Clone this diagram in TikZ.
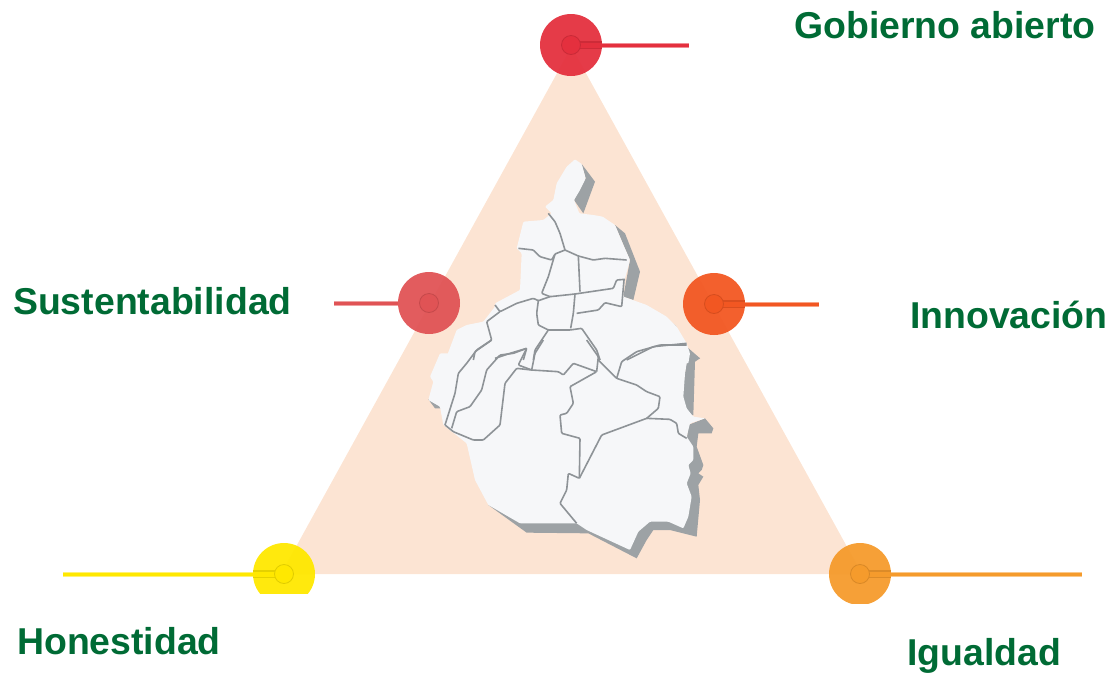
\documentclass[tikz,border=0pt]{standalone}
\usepackage{fontspec}
\setmainfont{Liberation Sans}
\definecolor{tri}{HTML}{FCE4D3}
\definecolor{mapw}{HTML}{F6F7F9}
\definecolor{maps}{HTML}{9DA2A5}
\definecolor{mapl}{HTML}{8E9397}
\definecolor{lab}{HTML}{006B35}
\definecolor{cTop}{HTML}{E4303E}
\definecolor{cLeft}{HTML}{E05355}
\definecolor{cRight}{HTML}{F25722}
\definecolor{cYel}{HTML}{FFE800}
\definecolor{cOra}{HTML}{F59B2C}
\tikzset{
  lbl/.style={font=\fontsize{37.4}{40}\selectfont\bfseries,text=lab,anchor=base west,inner sep=0pt},
  disc/.style={circle,minimum size=62pt,inner sep=0pt,draw=none,fill=#1,opacity=.95},
  hub/.style={circle,minimum size=19pt,inner sep=0pt,draw=#1!88!black,line width=.8pt,fill=#1},
  stem/.style={line width=5pt,draw=#1!55!white},
  stemin/.style={line width=3pt,draw=#1},
  band/.style={line width=8pt,draw=#1!90!black},
  bandin/.style={line width=5pt,draw=#1},
  bnd/.style={draw=mapl,line width=1.6pt,line join=round,rounded corners=1pt},
}
\begin{document}
\begin{tikzpicture}[x=1pt,y=-1pt]
\useasboundingbox (0,0) rectangle (1111,673);
% triangle
\coordinate (apex) at (571.5,47);
\coordinate (bl) at (281,574);
\coordinate (br) at (862,574);
\fill[tri] (apex) -- (br) -- (bl) -- cycle;
% map shadow (frame of lower crop)
\begin{scope}[shift={(420,340)},scale=0.33333]
\fill[maps] (805,30)--(840,55)--(825,65)--(820,225)--(780,225)--(785,170)--cycle;
\fill[maps] (805,255)--(855,235)--(880,265)--(875,280)--(835,280)--(830,320)--(850,375)--(845,390)--(835,400)--(850,410)--(835,435)--(840,480)--(830,590)--(790,580)--(750,570)--(700,570)--(680,600)--(650,655)--(505,580)--(320,578)--(205,495)--(300,500)--(700,500)--(790,400)--cycle;
\fill[maps] (25,178)--(50,180)--(70,205)--(45,205)--cycle;
\end{scope}
\begin{scope}[shift={(420,150)},scale=0.33333]
\fill[maps] (485,42)--(525,95)--(490,190)--(462,150)--(497,85)--cycle;
\fill[maps] (585,225)--(615,250)--(660,365)--(640,450)--(610,440)--(630,330)--cycle;
\fill[maps] (740,505)--(770,530)--(745,530)--cycle;
\fill[maps] (800,590)--(840,625)--(790,625)--cycle;
% white upper part
\fill[mapw,rounded corners=1pt] (465,28)--(485,42)--(497,85)--(480,120)--(462,150)--(478,190)--(520,195)--(548,200)--(585,225)--(610,285)--(630,330)--(615,385)--(610,440)--(680,465)--(740,500)--(770,530)--(800,580)--(810,610)--(805,640)--(60,640)--(80,620)--(110,540)--(140,525)--(190,515)--(225,470)--(225,460)--(300,420)--(305,310)--(290,295)--(310,215)--(370,210)--(395,190)--(375,170)--(400,150)--(410,100)--(440,50)--cycle;
\end{scope}
\begin{scope}[shift={(420,340)},scale=0.33333]
% white lower part
\fill[mapw,rounded corners=1pt] (60,40)--(805,40)--(795,100)--(790,170)--(800,205)--(820,230)--(855,235)--(810,250)--(800,290)--(820,320)--(820,360)--(805,375)--(812,400)--(800,430)--(815,470)--(805,530)--(790,565)--(745,545)--(690,545)--(655,575)--(630,630)--(500,570)--(470,550)--(300,550)--(205,495)--(165,420)--(140,310)--(115,290)--(70,255)--(60,200)--(25,180)--(40,125)--(30,110)--cycle;
\path[bnd] (215,0)--(170,30)--(140,70)--(115,100)--(105,160)--(75,255);
\path[bnd] (320,25)--(280,40)--(240,45)--(200,90)--(185,150)--(150,200)--(110,215)--(95,265);
\path[bnd] (75,255)--(100,275)--(160,300)--(190,300)--(240,255)--(255,130)--(290,85)--(335,90)--(415,95)--(430,105)--(460,70)--(530,95)--(450,140)--(460,190)--(440,220)--(420,225)--(425,280)--(480,295)--(478,415)--(445,400)--(440,450)--(420,490)--(470,550);
\path[bnd] (320,25)--(295,75)--(335,90)--(345,40)--(370,0);
\path[bnd] (500,0)--(535,50)--(530,95);
\path[bnd] (535,60)--(590,115)--(650,135)--(680,155)--(720,170)--(715,205)--(680,235);
\path[bnd] (590,115)--(605,65)--(650,35)--(720,15)--(800,15);
\path[bnd] (478,415)--(545,285)--(680,235)--(750,238)--(770,250)--(775,280)--(800,295);
\end{scope}
\begin{scope}[shift={(420,150)},scale=0.33333]
\path[bnd] (385,190)--(405,215)--(420,250)--(435,300);
\path[bnd] (295,295)--(340,300)--(360,320)--(395,330)--(405,312)--(435,300)--(475,318)--(520,330)--(555,325)--(620,330);
\path[bnd] (405,312)--(385,380)--(365,430)--(390,440)--(465,432)--(580,415)--(590,390)--(615,388);
\path[bnd] (475,318)--(480,425);
\path[bnd] (465,432)--(460,490)--(452,535);
\path[bnd] (390,440)--(355,452)--(340,445)--(290,460)--(240,485)--(225,465);
\path[bnd] (355,452)--(350,490)--(355,525)--(385,540)--(450,540)--(485,535)--(530,600)--(540,630);
\path[bnd] (470,490)--(535,480)--(555,458)--(605,470)--(612,390);
\path[bnd] (240,485)--(200,515)--(215,570)--(165,605)--(160,630);
\path[bnd] (385,540)--(345,600)--(340,630);
\path[bnd] (225,625)--(270,610)--(320,595)--(310,630);
\path[bnd] (620,630)--(700,590)--(800,580);
\end{scope}
% line free ends
\coordinate (eTop) at (689,45);
\coordinate (eLeft) at (334,303);
\coordinate (eRight) at (819,304);
\coordinate (eYel) at (63,574);
\coordinate (eOra) at (1082,574);
% top
\node[disc=cTop] (dTop) at (571,45) {};
\draw[stem=cTop] (dTop.east) -- (eTop);
\draw[stemin=cTop] (dTop.east) -- (eTop);
\draw[band=cTop] (dTop.center) -- (dTop.east);
\draw[bandin=cTop] (dTop.center) -- (dTop.east);
\node[hub=cTop] (hTop) at (dTop.center) {};
% left
\node[disc=cLeft] (dLeft) at (429,303) {};
\draw[stem=cLeft] (dLeft.west) -- (eLeft);
\draw[stemin=cLeft] (dLeft.west) -- (eLeft);
\node[hub=cLeft] (hLeft) at (dLeft.center) {};
% right
\node[disc=cRight] (dRight) at (714,304) {};
\draw[stem=cRight] (dRight.east) -- (eRight);
\draw[stemin=cRight] (dRight.east) -- (eRight);
\draw[band=cRight] (dRight.center) -- (dRight.east);
\draw[bandin=cRight] (dRight.center) -- (dRight.east);
\node[hub=cRight] (hRight) at (dRight.center) {};
% yellow (cut off below)
\begin{scope}
\clip (240,530) rectangle (330,593);
\node[disc=cYel] (dYel) at (284,574) {};
\draw[band=cYel] (dYel.center) -- (dYel.west);
\draw[bandin=cYel] (dYel.center) -- (dYel.west);
\node[hub=cYel] (hYel) at (dYel.center) {};
\end{scope}
\draw[stem=cYel] (dYel.west) -- (eYel);
\draw[stemin=cYel] (dYel.west) -- (eYel);
% orange (cut off below)
\begin{scope}
\clip (820,530) rectangle (900,603);
\node[disc=cOra] (dOra) at (860,574) {};
\draw[band=cOra] (dOra.center) -- (dOra.east);
\draw[bandin=cOra] (dOra.center) -- (dOra.east);
\node[hub=cOra] (hOra) at (dOra.center) {};
\end{scope}
\draw[stem=cOra] (dOra.east) -- (eOra);
\draw[stemin=cOra] (dOra.east) -- (eOra);
% labels
\node[lbl] (lGob) at (794,38) {Gobierno abierto};
\node[lbl] (lSus) at (13,314) {Sustentabilidad};
\node[lbl] (lInn) at (910,328) {Innovación};
\node[lbl] (lHon) at (17,654) {Honestidad};
\node[lbl] (lIgu) at (907,665) {Igualdad};
\end{tikzpicture}
\end{document}
